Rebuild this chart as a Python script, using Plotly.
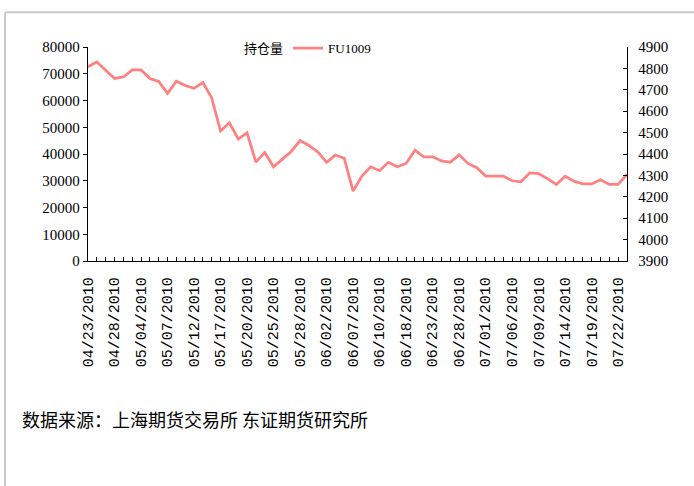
import plotly.graph_objects as go

dates = ["04/23/2010", "04/26/2010", "04/27/2010", "04/28/2010", "04/29/2010", "04/30/2010",
         "05/04/2010", "05/05/2010", "05/06/2010", "05/07/2010", "05/10/2010", "05/11/2010",
         "05/12/2010", "05/13/2010", "05/14/2010", "05/17/2010", "05/18/2010", "05/19/2010",
         "05/20/2010", "05/21/2010", "05/24/2010", "05/25/2010", "05/26/2010", "05/27/2010",
         "05/28/2010", "05/31/2010", "06/01/2010", "06/02/2010", "06/03/2010", "06/04/2010",
         "06/07/2010", "06/08/2010", "06/09/2010", "06/10/2010", "06/11/2010", "06/17/2010",
         "06/18/2010", "06/21/2010", "06/22/2010", "06/23/2010", "06/24/2010", "06/25/2010",
         "06/28/2010", "06/29/2010", "06/30/2010", "07/01/2010", "07/02/2010", "07/05/2010",
         "07/06/2010", "07/07/2010", "07/08/2010", "07/09/2010", "07/12/2010", "07/13/2010",
         "07/14/2010", "07/15/2010", "07/16/2010", "07/19/2010", "07/20/2010", "07/21/2010",
         "07/22/2010", "07/23/2010"]

fu1009 = [4807, 4830, 4791, 4753, 4760, 4793, 4793, 4753, 4739, 4683,
          4740, 4720, 4707, 4734, 4662, 4508, 4546, 4470, 4499, 4362,
          4407, 4340, 4376, 4412, 4463, 4440, 4410, 4361, 4395, 4380,
          4227, 4297, 4340, 4322, 4361, 4340, 4356, 4418, 4387, 4387,
          4368, 4361, 4396, 4356, 4336, 4297, 4297, 4297, 4275, 4270,
          4312, 4308, 4285, 4258, 4296, 4273, 4260, 4260, 4280, 4258,
          4258, 4305]

left_ticks = [0, 10000, 20000, 30000, 40000, 50000, 60000, 70000, 80000]
right_ticks = [3900, 4000, 4100, 4200, 4300, 4400, 4500, 4600, 4700, 4800, 4900]
label_step = 3

ticktext = [d if i % label_step == 0 and i < 61 else "" for i, d in enumerate(dates)]

serif = "Liberation Serif, Noto Sans CJK SC"

fig = go.Figure()
fig.add_trace(go.Scatter(x=[dates[0]], y=[None], name="持仓量", mode="lines",
                         line=dict(color="rgba(0,0,0,0)", width=2.75), yaxis="y"))
fig.add_trace(go.Scatter(x=dates, y=fu1009, name="FU1009", mode="lines",
                         line=dict(color="#FF8080", width=2.75), yaxis="y2"))

W, H = 694, 486
L, R, T, B = 88, 627, 46.7, 261.1
pw, ph = R - L, B - T

def px(x):
    return (x - L) / pw

def py(y):
    return (B - y) / ph

fig.update_layout(
    width=W, height=H,
    margin=dict(l=L, r=W - R, t=T, b=H - B, autoexpand=False),
    paper_bgcolor="white", plot_bgcolor="white",
    showlegend=True,
    legend=dict(orientation="h", x=px(204), y=py(48), xanchor="left", yanchor="middle",
                font=dict(family=serif, size=13, color="black"),
                bgcolor="rgba(0,0,0,0)", itemwidth=30, tracegroupgap=0),
    xaxis=dict(type="category", categoryorder="array", categoryarray=dates,
               range=[0, len(dates) - 1],
               tickmode="array", tickvals=dates, ticktext=ticktext,
               tickangle=-90, ticks="inside", ticklen=4, tickcolor="black",
               showline=True, linecolor="black", linewidth=1.3,
               showgrid=False, zeroline=False,
               tickfont=dict(family="Liberation Mono", size=15, color="black"),
               ticklabelstandoff=9),
    yaxis=dict(range=[0, 80000], tickvals=left_ticks,
               ticktext=[str(v) for v in left_ticks],
               ticks="outside", ticklen=4, tickcolor="black",
               showline=True, linecolor="black", linewidth=1.3,
               showgrid=False, zeroline=False,
               tickfont=dict(family=serif, size=15, color="black")),
    yaxis2=dict(range=[3900, 4900], tickvals=right_ticks,
                ticktext=[str(v) for v in right_ticks],
                overlaying="y", side="right",
                ticks="inside", ticklen=4, tickcolor="black",
                showline=True, linecolor="black", linewidth=1.3,
                showgrid=False, zeroline=False,
                tickfont=dict(family=serif, size=15, color="black"),
                ticklabelstandoff=7),
    shapes=[
        dict(type="line", xref="paper", yref="paper", x0=px(5), x1=px(700), y0=py(12), y1=py(12),
             line=dict(color="#c8c8c8", width=2)),
        dict(type="line", xref="paper", yref="paper", x0=px(5), x1=px(5), y0=py(12), y1=py(490),
             line=dict(color="#c8c8c8", width=2)),
    ],
    annotations=[
        dict(text="数据来源：上海期货交易所 东证期货研究所", xref="paper", yref="paper",
             x=px(20), y=py(419), xanchor="left", yanchor="middle", showarrow=False,
             font=dict(family="Noto Sans CJK SC", size=18, color="black")),
    ],
)

fig.write_html("out.html", config={"displayModeBar": False},
               post_script="document.body.style.margin='0';")
